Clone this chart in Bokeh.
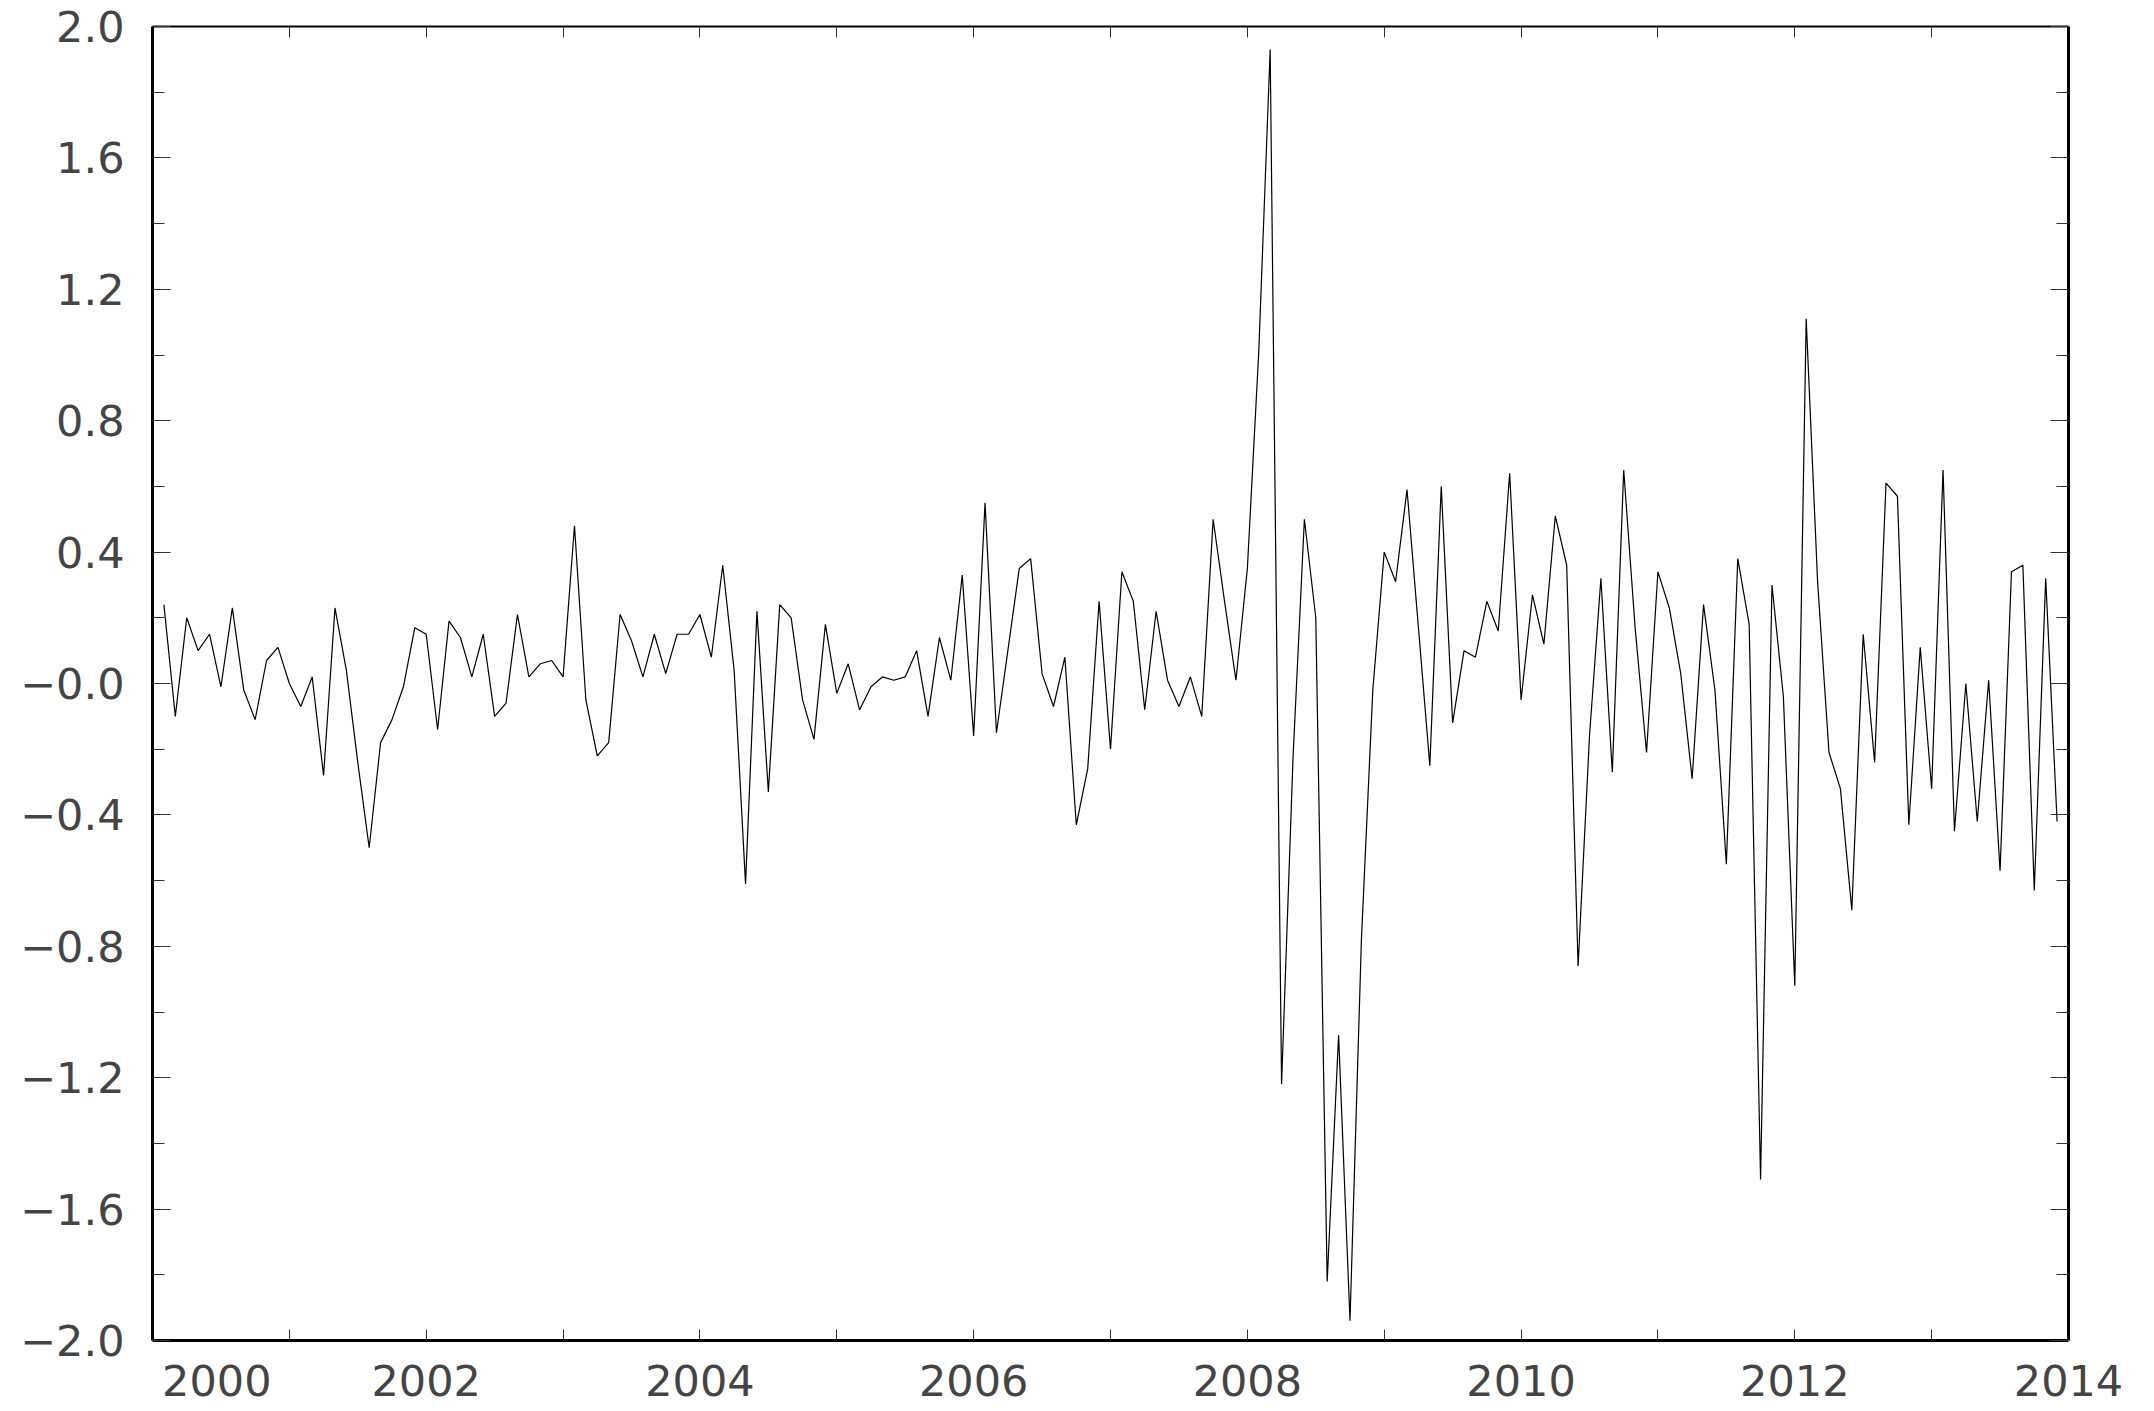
from bokeh.plotting import figure
from bokeh.models import FixedTicker, LinearAxis, Range1d, CustomJSTickFormatter
from bokeh.embed import file_html
from bokeh.resources import INLINE

# ---- data (monthly, Feb 2000 .. Dec 2013) ----
start_year = 2000
start_month = 2
values = [
    0.24, -0.10, 0.20, 0.10, 0.15, -0.01, 0.23, -0.02, -0.11, 0.07, 0.11,            # 2000 Feb-Dec
    0.00, -0.07, 0.02, -0.28, 0.23, 0.04, -0.24, -0.50, -0.18, -0.11, -0.01, 0.17,   # 2001
    0.15, -0.14, 0.19, 0.14, 0.02, 0.15, -0.10, -0.06, 0.21, 0.02, 0.06, 0.07,       # 2002
    0.02, 0.48, -0.05, -0.22, -0.18, 0.21, 0.13, 0.02, 0.15, 0.03, 0.15, 0.15,       # 2003
    0.21, 0.08, 0.36, 0.04, -0.61, 0.22, -0.33, 0.24, 0.20, -0.05, -0.17, 0.18,      # 2004
    -0.03, 0.06, -0.08, -0.01, 0.02, 0.01, 0.02, 0.10, -0.10, 0.14, 0.01, 0.33,      # 2005
    -0.16, 0.55, -0.15, 0.10, 0.35, 0.38, 0.03, -0.07, 0.08, -0.43, -0.26, 0.25,     # 2006
    -0.20, 0.34, 0.25, -0.08, 0.22, 0.01, -0.07, 0.02, -0.10, 0.50, 0.25, 0.01,      # 2007
    0.35, 1.01, 1.93, -1.22, -0.23, 0.50, 0.20, -1.82, -1.07, -1.94, -0.78, -0.02,   # 2008
    0.40, 0.31, 0.59, 0.17, -0.25, 0.60, -0.12, 0.10, 0.08, 0.25, 0.16, 0.64,        # 2009
    -0.05, 0.27, 0.12, 0.51, 0.36, -0.86, -0.16, 0.32, -0.27, 0.65, 0.17, -0.21,     # 2010
    0.34, 0.23, 0.03, -0.29, 0.24, -0.02, -0.55, 0.38, 0.18, -1.51, 0.30, -0.04,     # 2011
    -0.92, 1.11, 0.31, -0.21, -0.32, -0.69, 0.15, -0.24, 0.61, 0.57, -0.43, 0.11,    # 2012
    -0.32, 0.65, -0.45, 0.00, -0.42, 0.01, -0.57, 0.34, 0.36, -0.63, 0.32, -0.42,    # 2013
]
x_label_years = [2000, 2002, 2004, 2006, 2008, 2010, 2012, 2014]
x_tick_years = list(range(2001, 2014))
y_ticks = [-2.0, -1.6, -1.2, -0.8, -0.4, 0.0, 0.4, 0.8, 1.2, 1.6, 2.0]
y_minor = [-1.8, -1.4, -1.0, -0.6, -0.2, 0.2, 0.6, 1.0, 1.4, 1.8]

# the first year label sits to the right of the frame corner (style offset, in years)
first_label_shift = 0.47
x_label_pos = [y + (first_label_shift if i == 0 else 0.0) for i, y in enumerate(x_label_years)]

t = [start_year + (start_month - 1 + i) / 12.0 for i in range(len(values))]

FONT = "DejaVu Sans"
LBL_COLOR = "#444444"
TICK_COLOR = "#333333"
FS = "43px"

p = figure(width=2154, height=1411, output_backend="svg", toolbar_location=None,
           x_range=Range1d(2000, 2014), y_range=Range1d(-2.0, 2.0),
           min_border_left=152, min_border_right=86, min_border_top=26, min_border_bottom=71,
           x_axis_location=None, y_axis_location=None)
p.xgrid.visible = False
p.ygrid.visible = False
p.outline_line_color = None
p.background_fill_color = "white"
p.border_fill_color = "white"

p.line(t, values, line_color="black", line_width=1.2)

xticker = FixedTicker(ticks=x_label_pos, minor_ticks=x_tick_years)
yticker = FixedTicker(ticks=y_ticks, minor_ticks=y_minor)

empty_fmt = CustomJSTickFormatter(code="return '';")
xfmt = CustomJSTickFormatter(code="return Math.round(tick).toFixed(0);")
yfmt = CustomJSTickFormatter(code="""
const s = Math.abs(tick).toFixed(1);
return (tick < -1e-9 || Math.abs(tick) < 1e-9) ? '\u2212' + s : s;
""")


def style(ax, tin_major, tin_minor, lw):
    ax.axis_line_width = lw
    ax.axis_line_color = "black"
    ax.major_tick_in = tin_major
    ax.major_tick_out = 0
    ax.minor_tick_in = tin_minor
    ax.minor_tick_out = 0
    ax.major_tick_line_color = TICK_COLOR
    ax.minor_tick_line_color = TICK_COLOR
    ax.major_tick_line_width = 1
    ax.minor_tick_line_width = 1
    ax.major_label_text_font = FONT
    ax.major_label_text_font_size = FS
    ax.major_label_text_color = LBL_COLOR


# x axes: visible ticks at every year (minor), labels at even years (major, no tick mark)
bottom = LinearAxis(ticker=xticker, formatter=xfmt)
style(bottom, 11, 11, 3)
bottom.major_tick_line_color = None
bottom.major_label_standoff = 24
p.add_layout(bottom, "below")

top = LinearAxis(ticker=xticker, formatter=empty_fmt)
style(top, 11, 11, 2)
top.major_tick_line_color = None
top.major_label_standoff = 0
p.add_layout(top, "above")

left = LinearAxis(ticker=yticker, formatter=yfmt)
style(left, 18, 12, 3)
left.major_label_standoff = 28
p.add_layout(left, "left")

right = LinearAxis(ticker=yticker, formatter=empty_fmt)
style(right, 18, 12, 3)
right.major_label_standoff = 0
p.add_layout(right, "right")

open("out.html", "w").write(file_html(p, INLINE))
